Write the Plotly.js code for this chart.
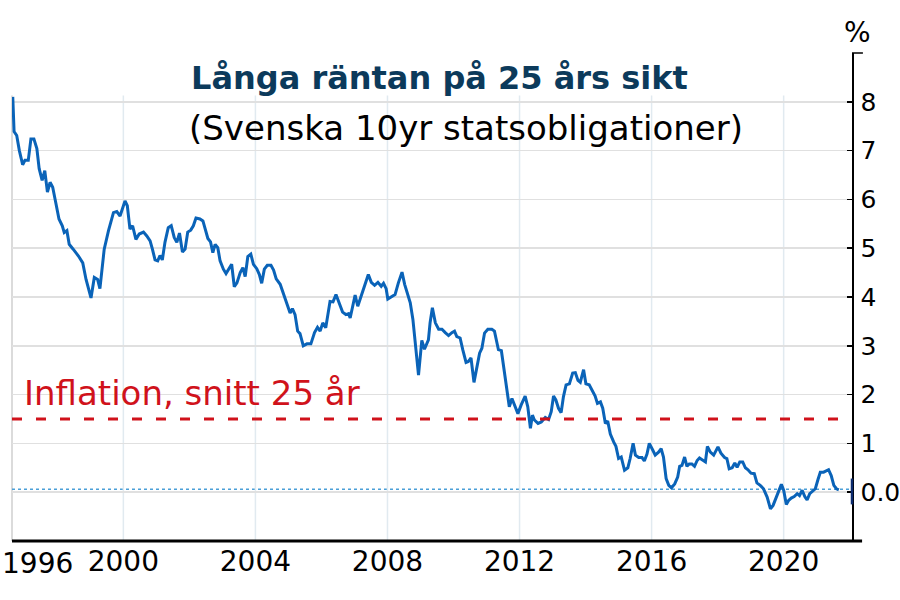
<!DOCTYPE html>
<html>
<head>
<meta charset="utf-8">
<script src="https://cdn.plot.ly/plotly-3.0.1.min.js"></script>
<style>html,body{margin:0;padding:0;background:#fff;}#chart{width:900px;height:600px;}</style>
</head>
<body>
<div id="chart"></div>
<script>
// Time in decimal years
var years = [
1996.65,1996.69,1996.77,1996.85,1996.95,1997.02,1997.12,1997.20,1997.29,1997.38,1997.45,1997.54,1997.62,1997.70,1997.78,1997.86,1997.95,
1998.05,1998.15,1998.21,1998.29,1998.36,1998.48,1998.64,1998.77,1998.87,1999.02,1999.12,1999.22,1999.29,1999.42,1999.55,1999.70,1999.80,1999.90,
2000.05,2000.12,2000.20,2000.28,2000.38,2000.48,2000.61,2000.71,2000.81,2000.88,2000.96,
2001.04,2001.11,2001.18,2001.26,2001.36,2001.45,2001.54,2001.62,2001.70,2001.79,2001.87,2001.95,
2002.04,2002.12,2002.20,2002.32,2002.41,2002.48,2002.56,2002.64,2002.71,2002.78,2002.86,2002.93,
2003.03,2003.11,2003.18,2003.28,2003.36,2003.44,2003.54,2003.62,2003.69,2003.77,2003.86,2003.94,
2004.04,2004.12,2004.19,2004.27,2004.36,2004.47,2004.55,2004.63,2004.75,2004.85,2004.95,
2005.05,2005.12,2005.20,2005.28,2005.35,2005.45,2005.56,2005.68,2005.79,2005.88,2005.96,
2006.04,2006.13,2006.26,2006.35,2006.44,2006.52,2006.64,2006.74,2006.82,2006.87,2006.95,
2007.02,2007.10,2007.20,2007.32,2007.42,2007.51,2007.61,2007.71,2007.81,2007.88,2007.96,
2008.01,2008.11,2008.23,2008.33,2008.44,2008.52,2008.62,2008.69,2008.77,2008.84,2008.94,
2009.04,2009.12,2009.24,2009.29,2009.36,2009.45,2009.55,2009.65,2009.75,2009.85,2009.95,
2010.03,2010.10,2010.20,2010.28,2010.38,2010.45,2010.53,2010.62,2010.71,2010.79,2010.86,2010.94,
2011.04,2011.16,2011.24,2011.29,2011.36,2011.45,2011.53,2011.62,2011.69,2011.77,2011.85,2011.95,
2012.05,2012.17,2012.25,2012.33,2012.39,2012.45,2012.56,2012.66,2012.78,2012.88,2012.96,
2013.03,2013.10,2013.18,2013.26,2013.33,2013.41,2013.51,2013.61,2013.69,2013.77,2013.84,2013.94,
2014.01,2014.11,2014.21,2014.29,2014.36,2014.45,2014.52,2014.60,2014.67,2014.75,2014.85,2014.92,
2015.00,2015.08,2015.18,2015.28,2015.35,2015.44,2015.51,2015.61,2015.71,2015.78,2015.86,2015.93,
2016.03,2016.11,2016.21,2016.29,2016.36,2016.44,2016.52,2016.60,2016.70,2016.79,2016.85,2016.92,
2017.00,2017.07,2017.14,2017.22,2017.30,2017.38,2017.45,2017.53,2017.63,2017.69,2017.78,2017.88,
2018.01,2018.10,2018.21,2018.28,2018.35,2018.44,2018.52,2018.59,2018.67,2018.76,2018.84,2018.92,
2019.01,2019.11,2019.19,2019.29,2019.39,2019.50,2019.60,2019.68,2019.77,2019.85,2019.93,
2020.00,2020.08,2020.15,2020.23,2020.32,2020.41,2020.48,2020.56,2020.64,2020.71,2020.79,2020.88,2020.96,
2021.04,2021.11,2021.21,2021.28,2021.36,2021.44,2021.52,2021.60,2021.67
];
// Swedish 10y government bond yield, %
var yields = [
8.10,7.39,7.31,7.00,6.71,6.80,6.80,7.24,7.24,7.04,6.63,6.39,6.59,6.15,6.35,6.25,5.94,
5.60,5.46,5.32,5.36,5.08,4.98,4.84,4.70,4.36,3.98,4.40,4.36,4.17,4.98,5.36,5.73,5.75,5.66,
5.97,5.87,5.39,5.46,5.18,5.29,5.33,5.25,5.15,4.98,4.76,
4.74,4.85,4.76,5.12,5.42,5.46,5.22,5.12,5.31,4.92,4.98,5.33,
5.37,5.46,5.62,5.60,5.56,5.39,5.20,5.13,4.91,5.08,5.01,4.74,
4.57,4.48,4.57,4.67,4.21,4.29,4.50,4.60,4.42,4.83,4.88,4.67,
4.58,4.46,4.28,4.57,4.65,4.65,4.55,4.37,4.26,4.05,3.85,
3.67,3.76,3.64,3.30,3.25,3.00,3.04,3.04,3.27,3.38,3.30,
3.47,3.37,3.91,3.90,4.05,3.89,3.69,3.64,3.66,3.57,3.82,
4.04,3.81,4.02,4.29,4.46,4.30,4.24,4.30,4.22,4.28,4.17,
3.96,4.00,4.05,4.29,4.51,4.26,4.05,3.88,3.54,3.12,2.40,
3.11,2.93,3.12,3.47,3.78,3.47,3.34,3.34,3.27,3.21,3.27,
3.30,3.19,3.16,2.92,2.66,2.68,2.75,2.25,2.57,2.85,2.95,3.26,
3.34,3.34,3.30,3.12,2.92,2.90,2.51,2.09,1.75,1.92,1.79,1.61,
1.79,1.97,1.75,1.31,1.58,1.48,1.41,1.44,1.53,1.49,1.65,
1.97,1.89,1.72,1.63,1.96,2.20,2.22,2.44,2.45,2.29,2.25,2.51,
2.22,2.20,2.06,1.97,1.82,1.85,1.72,1.41,1.46,1.19,1.03,0.94,
0.69,0.72,0.45,0.50,0.69,1.00,0.76,0.71,0.71,0.64,0.78,1.00,
0.87,0.76,0.82,0.89,0.72,0.28,0.14,0.09,0.17,0.31,0.53,0.55,
0.72,0.53,0.58,0.58,0.53,0.65,0.70,0.67,0.62,0.94,0.82,0.76,
0.93,0.80,0.71,0.69,0.48,0.50,0.60,0.51,0.62,0.62,0.50,0.46,
0.39,0.38,0.19,0.14,0.07,-0.10,-0.34,-0.27,-0.10,0.04,0.16,
0.04,-0.25,-0.17,-0.12,-0.09,-0.03,-0.07,0.04,-0.09,-0.16,-0.03,0.02,0.07,
0.26,0.41,0.41,0.43,0.46,0.34,0.14,0.07,0.05
];
var xTickVals = [2000, 2004, 2008, 2012, 2016, 2020];
var xTickText = ["2000", "2004", "2008", "2012", "2016", "2020"];
var firstYearLabel = "1996";
var yTickVals = [0, 1, 2, 3, 4, 5, 6, 7, 8];
var yTickText = ["0.0", "1", "2", "3", "4", "5", "6", "7", "8"];
var inflationAvg = 1.5;
var zeroRef = 0.06;
var titleText = "Långa räntan på 25 års sikt";
var subtitleText = "(Svenska 10yr statsobligationer)";
var inflationLabel = "Inflation, snitt 25 år";

var FONT = "DejaVu Sans, Verdana, sans-serif";
var xMin = 1996.627, xMax = 2022.07;

var shapes = [];
xTickVals.forEach(function (v) {
  shapes.push({type: "line", xref: "x", yref: "y", x0: v, x1: v, y0: -1, y1: 8.13,
    line: {color: "#e1eaf0", width: 1.5}, layer: "below"});
});
// left light axis
shapes.push({type: "line", xref: "paper", yref: "y", x0: 0, x1: 0, y0: -1, y1: 8.13,
  line: {color: "#cfcfcf", width: 1.5}, layer: "below"});
// inflation average dashed
shapes.push({type: "line", xref: "paper", yref: "y", x0: 0, x1: 1, y0: inflationAvg, y1: inflationAvg,
  line: {color: "#d0121b", width: 3, dash: "10px,14px"}});
// zero dotted
shapes.push({type: "line", xref: "paper", yref: "y", x0: 0, x1: 1, y0: zeroRef, y1: zeroRef,
  line: {color: "#4a9fd8", width: 1.5, dash: "dot"}, layer: "below"});
// bottom axis
shapes.push({type: "line", xref: "paper", yref: "paper", x0: 0, x1: 1.012, y0: 0, y1: 0,
  line: {color: "#000", width: 3}});
// top cap of right axis
shapes.push({type: "line", xref: "paper", yref: "paper", x0: 1, x1: 1.013, y0: 1, y1: 1,
  line: {color: "#000", width: 1.5}});
// navy marker on axis at zero
shapes.push({type: "line", xref: "paper", yref: "y", x0: 1, x1: 1, y0: -0.25, y1: 0.28,
  line: {color: "#0b2a6e", width: 2.5}});

var trace = {
  x: years, y: yields, type: "scatter", mode: "lines",
  line: {color: "#0a63b8", width: 3}, hoverinfo: "skip"
};

var layout = {
  width: 900, height: 600,
  margin: {l: 12, r: 48, t: 53, b: 59},
  paper_bgcolor: "#fff", plot_bgcolor: "#fff",
  showlegend: false,
  font: {family: FONT, color: "#000"},
  xaxis: {
    range: [xMin, xMax], tickvals: xTickVals, ticktext: xTickText,
    showgrid: false, zeroline: false, showline: false, ticks: "",
    tickfont: {size: 28, family: FONT, color: "#000"}, ticklabelstandoff: 1
  },
  yaxis: {
    side: "right", range: [-1, 9], tickvals: yTickVals, ticktext: yTickText,
    showgrid: true, gridcolor: "#e0e0e0", gridwidth: 1.5, zeroline: false,
    showline: true, linecolor: "#000", linewidth: 1.5,
    ticks: "inside", ticklen: 5, tickwidth: 1.5, tickcolor: "#000",
    tickfont: {size: 25, family: FONT, color: "#000"}, ticklabelstandoff: 2
  },
  shapes: shapes,
  annotations: [
    {text: "<b>" + titleText + "</b>", xref: "paper", yref: "paper", x: 0.5095, y: 0.949,
      xanchor: "center", yanchor: "middle", showarrow: false,
      font: {size: 32, color: "#0c3a5b", family: FONT}},
    {text: subtitleText, xref: "paper", yref: "paper", x: 0.540, y: 0.846,
      xanchor: "center", yanchor: "middle", showarrow: false,
      font: {size: 34, color: "#000", family: FONT}},
    {text: inflationLabel, xref: "paper", yref: "paper", x: 0.0119, y: 0.303,
      xanchor: "left", yanchor: "middle", showarrow: false,
      font: {size: 34, color: "#d0121b", family: FONT}},
    {text: "%", xref: "paper", yref: "paper", x: 1.007, y: 1.041,
      xanchor: "center", yanchor: "middle", showarrow: false,
      font: {size: 28, color: "#000", family: FONT}},
    {text: firstYearLabel, xref: "paper", yref: "paper", x: -0.014, y: -0.047,
      xanchor: "left", yanchor: "middle", showarrow: false,
      font: {size: 28, color: "#000", family: FONT}}
  ]
};

Plotly.newPlot("chart", [trace], layout, {staticPlot: true, displayModeBar: false});
</script>
</body>
</html>
